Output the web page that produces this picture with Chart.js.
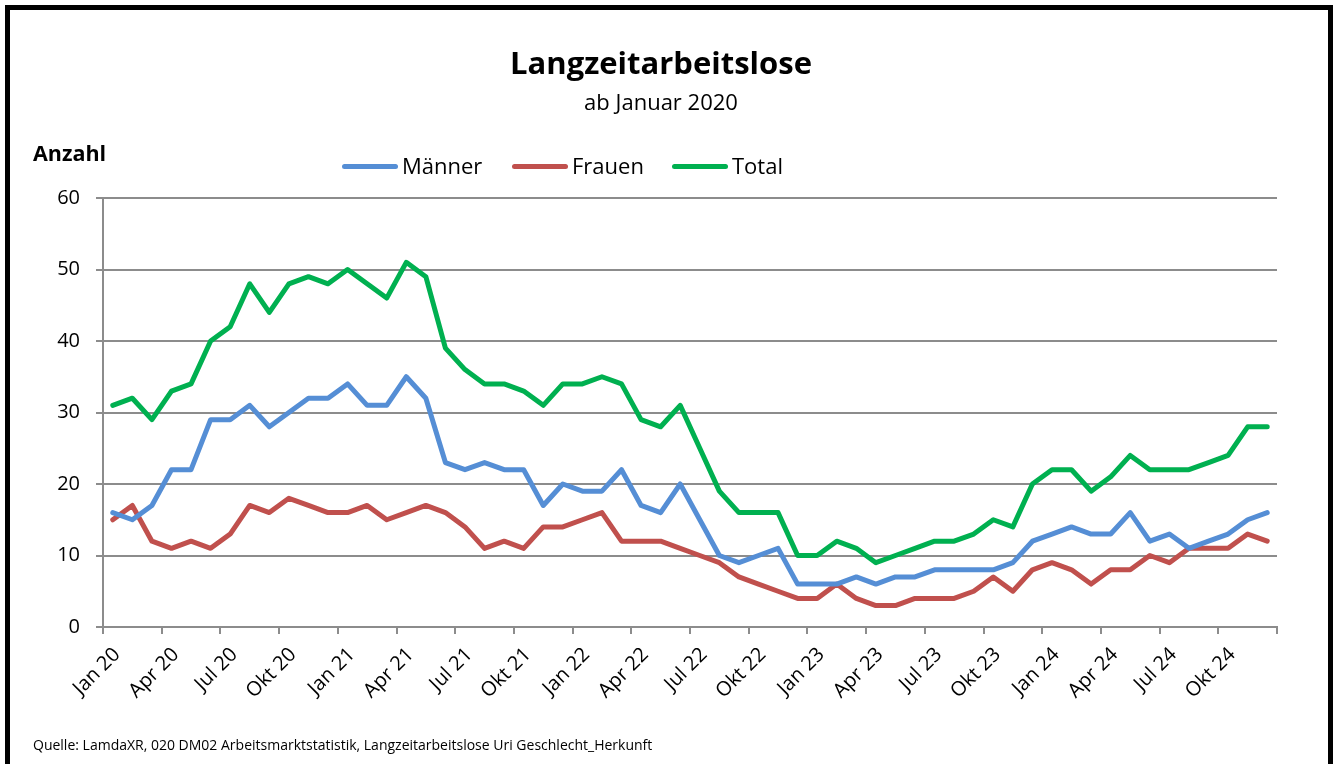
<!DOCTYPE html>
<html lang="de">
<head>
<meta charset="utf-8">
<title>Langzeitarbeitslose</title>
<script src="https://cdn.jsdelivr.net/npm/chart.js@4.4.1/dist/chart.umd.min.js"></script>
<style>
  html, body { margin: 0; padding: 0; background: #fff; }
  body { width: 1338px; height: 764px; position: relative; overflow: hidden; font-family: "Open Sans", Lato, sans-serif; color: #000; }
  #wrap { position: absolute; left: 0; top: 0; width: 1338px; height: 764px; }
  .frame { position: absolute; left: 5px; top: 5px; width: 1328px; height: 820px; box-sizing: border-box; border: 5px solid #000; pointer-events: none; }
  .txt { position: absolute; white-space: nowrap; pointer-events: none; line-height: normal; }
  #title { left: 0; width: 1322px; top: 41px; text-align: center; font-weight: bold; font-size: 31px; }
  #subtitle { left: 0; width: 1322px; top: 86px; text-align: center; font-size: 22px; }
  #ylabel { left: 33px; top: 138px; font-weight: bold; font-size: 21.5px; }
  #legend { left: 0; top: 150px; font-size: 22px; }
  #legend .item { position: absolute; top: 0; display: flex; align-items: center; }
  #legend .swatch { width: 56px; height: 5px; border-radius: 3px; margin-right: 4px; margin-top: 2px; }
  #source { left: 33px; top: 735px; font-size: 14px; }
</style>
</head>
<body>
<div id="wrap"><canvas id="chart"></canvas></div>
<div class="txt" id="title">Langzeitarbeitslose</div>
<div class="txt" id="subtitle">ab Januar 2020</div>
<div class="txt" id="ylabel">Anzahl</div>
<div class="txt" id="legend"></div>
<div class="txt" id="source">Quelle: LamdaXR, 020 DM02 Arbeitsmarktstatistik, Langzeitarbeitslose Uri Geschlecht_Herkunft</div>
<div class="frame"></div>
<script>
  // Monate Jan 20 .. Dez 24
  const months = [
    "Jan 20", "Feb 20", "Mär 20", "Apr 20", "Mai 20", "Jun 20", "Jul 20", "Aug 20", "Sep 20", "Okt 20", "Nov 20", "Dez 20",
    "Jan 21", "Feb 21", "Mär 21", "Apr 21", "Mai 21", "Jun 21", "Jul 21", "Aug 21", "Sep 21", "Okt 21", "Nov 21", "Dez 21",
    "Jan 22", "Feb 22", "Mär 22", "Apr 22", "Mai 22", "Jun 22", "Jul 22", "Aug 22", "Sep 22", "Okt 22", "Nov 22", "Dez 22",
    "Jan 23", "Feb 23", "Mär 23", "Apr 23", "Mai 23", "Jun 23", "Jul 23", "Aug 23", "Sep 23", "Okt 23", "Nov 23", "Dez 23",
    "Jan 24", "Feb 24", "Mär 24", "Apr 24", "Mai 24", "Jun 24", "Jul 24", "Aug 24", "Sep 24", "Okt 24", "Nov 24", "Dez 24",
  ];

  const maenner = [
    16, 15, 17, 22, 22, 29, 29, 31, 28, 30, 32, 32,
    34, 31, 31, 35, 32, 23, 22, 23, 22, 22, 17, 20,
    19, 19, 22, 17, 16, 20, 15, 10, 9, 10, 11, 6,
    6, 6, 7, 6, 7, 7, 8, 8, 8, 8, 9, 12,
    13, 14, 13, 13, 16, 12, 13, 11, 12, 13, 15, 16,
  ];

  const frauen = [
    15, 17, 12, 11, 12, 11, 13, 17, 16, 18, 17, 16,
    16, 17, 15, 16, 17, 16, 14, 11, 12, 11, 14, 14,
    15, 16, 12, 12, 12, 11, 10, 9, 7, 6, 5, 4,
    4, 6, 4, 3, 3, 4, 4, 4, 5, 7, 5, 8,
    9, 8, 6, 8, 8, 10, 9, 11, 11, 11, 13, 12,
  ];

  const total = [
    31, 32, 29, 33, 34, 40, 42, 48, 44, 48, 49, 48,
    50, 48, 46, 51, 49, 39, 36, 34, 34, 33, 31, 34,
    34, 35, 34, 29, 28, 31, 25, 19, 16, 16, 16, 10,
    10, 12, 11, 9, 10, 11, 12, 12, 13, 15, 14, 20,
    22, 22, 19, 21, 24, 22, 22, 22, 23, 24, 28, 28,
  ];

  // nur jeder dritte Monat wird beschriftet
  const tickLabels = months.filter((m, i) => i % 3 === 0);
  const yTicks = [0, 10, 20, 30, 40, 50, 60];

  const series = [
    { label: "Männer", values: maenner, color: "#558ED5" },
    { label: "Frauen", values: frauen, color: "#C0504D" },
    { label: "Total", values: total, color: "#00B050" },
  ];

  const gridGray = "#8C8C8C";

  // Legende als HTML (wie in Excel etwas links der Mitte)
  const legendLeft = [342, 512, 672];
  const legendEl = document.getElementById("legend");
  series.forEach((s, i) => {
    const item = document.createElement("div");
    item.className = "item";
    item.style.left = legendLeft[i] + "px";
    item.innerHTML = `<span class="swatch" style="background:${s.color}"></span><span>${s.label}</span>`;
    legendEl.appendChild(item);
  });

  new Chart(document.getElementById("chart"), {
    type: "line",
    data: {
      datasets: series.map((s) => ({
        label: s.label,
        // Punkt in der Mitte des Monats, Ticks an den Monatsgrenzen (wie Excel)
        data: s.values.map((v, i) => ({ x: i + 0.5, y: v })),
        borderColor: s.color,
        backgroundColor: s.color,
        borderWidth: 5,
        pointRadius: 0,
        tension: 0,
        borderJoinStyle: "round",
        borderCapStyle: "round",
      })),
    },
    options: {
      responsive: true,
      maintainAspectRatio: false,
      animation: false,
      layout: { padding: { top: 198, right: 61, bottom: 37, left: 0 } },
      plugins: {
        legend: { display: false },
        title: { display: false },
        tooltip: { enabled: false },
      },
      scales: {
        x: {
          type: "linear",
          min: 0,
          max: months.length,
          afterFit: (scale) => { scale.height = 100; },
          afterBuildTicks: (scale) => {
            scale.ticks = tickLabels.map((t, i) => ({ value: i * 3 })).concat([{ value: months.length }]);
          },
          ticks: {
            autoSkip: false,
            maxRotation: 45,
            minRotation: 45,
            padding: 9,
            labelOffset: 14,
            color: "#000",
            font: { family: "Open Sans", size: 20 },
            callback: (v) => tickLabels[Math.round(v / 3)] ?? "",
          },
          grid: {
            drawOnChartArea: false,
            drawTicks: true,
            tickLength: 7,
            color: gridGray,
            lineWidth: 2,
          },
          border: { display: true, color: gridGray, width: 2 },
        },
        y: {
          min: 0,
          max: 60,
          afterFit: (scale) => { scale.width = 103; },
          afterBuildTicks: (scale) => {
            scale.ticks = yTicks.map((v) => ({ value: v }));
          },
          ticks: {
            padding: 16,
            color: "#000",
            font: { family: "Open Sans", size: 20 },
          },
          grid: {
            color: gridGray,
            lineWidth: 2,
            tickLength: 7,
          },
          border: { display: true, color: gridGray, width: 2 },
        },
      },
    },
  });
</script>
</body>
</html>
